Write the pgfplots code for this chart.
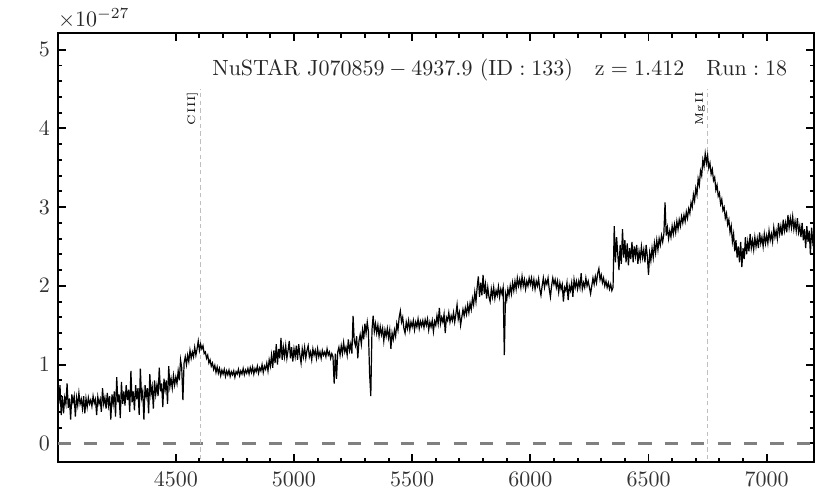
\documentclass[border=0pt]{standalone}
\usepackage{pgfplots}
\pgfplotsset{compat=1.18}

\begin{document}
\begin{tikzpicture}
\begin{axis}[
    name=ax,
    width=343.8pt, height=195pt,
    scale only axis,
    xmin=4000, xmax=7200,
    ymin=-0.24, ymax=5.21,
    xtick={4500,5000,...,7000},
    ytick={0,1,...,5},
    minor x tick num=4,
    minor y tick num=4,
    tick align=inside,
    xtick pos=both, ytick pos=both,
    major tick length=3.6pt,
    minor tick length=2pt,
    every tick/.style={black, line width=0.9pt},
    axis line style={black, line width=1pt},
    tick label style={font=\normalsize, color=black!80},
    xticklabel style={yshift=-1pt, /pgf/number format/set thousands separator={}},
    scaled ticks=false,
    clip=true,
]
% zero level
\addplot[gray, line width=1.1pt, dash pattern=on 6pt off 6pt]
    coordinates {(4000,0) (7200,0)};
% emission line markers
\addplot[black!25, line width=0.5pt, dash pattern=on 2pt off 1.5pt]
    coordinates {(4604.5,-0.3) (4604.5,4.5)};
\addplot[black!25, line width=0.5pt, dash pattern=on 2pt off 1.5pt]
    coordinates {(6751,-0.3) (6751,4.5)};

% spectrum
\addplot[black, line width=0.55pt] coordinates {
(4000,.62) (4005,.50) (4010,.74) (4015,.36) (4020,.60) (4025,.38) (4030,.58) (4035,.50) (4040,.76) (4045,.45) (4050,.57) (4055,.30) (4060,.62) (4065,.52) (4070,.60) (4075,.34) (4080,.58) (4085,.48) (4090,.64) (4095,.50)
(4100,.56) (4105,.44) (4110,.60) (4115,.38) (4120,.57) (4125,.46) (4130,.58) (4135,.50) (4140,.55) (4145,.47) (4150,.60) (4155,.51) (4160,.56) (4165,.36) (4170,.59) (4175,.50) (4180,.56) (4185,.40) (4190,.70) (4195,.50)
(4200,.58) (4205,.44) (4210,.64) (4215,.48) (4220,.60) (4225,.30) (4230,.62) (4235,.50) (4240,.66) (4245,.34) (4250,.84) (4255,.52) (4260,.62) (4265,.32) (4270,.78) (4275,.50) (4280,.66) (4285,.48) (4290,.74) (4295,.55)
(4300,.68) (4305,.40) (4310,.92) (4315,.52) (4320,.66) (4325,.42) (4330,.74) (4335,.56) (4340,.70) (4345,.36) (4350,.95) (4355,.58) (4360,.66) (4365,.30) (4370,.74) (4375,.60) (4380,.70) (4385,.38) (4390,.88) (4395,.62)
(4400,.72) (4405,.44) (4410,.80) (4415,.62) (4420,.74) (4425,.60) (4430,.96) (4435,.66) (4440,.76) (4445,.46) (4450,.82) (4455,.68) (4460,.80) (4465,.50) (4470,.98) (4475,.72) (4480,.82) (4485,.70) (4490,.86) (4495,.74)
(4500,.84) (4505,.76) (4510,.92) (4515,.80) (4520,1.06) (4525,.96) (4530,.55) (4535,1.02) (4540,1.10) (4545,1.00) (4550,1.12) (4555,1.04) (4560,1.18) (4565,1.08) (4570,1.16) (4575,1.10) (4580,1.22) (4585,1.12) (4590,1.20) (4595,1.30)
(4600,1.18) (4605,1.26) (4610,1.20) (4615,1.24) (4620,1.14) (4625,1.16) (4630,1.08) (4635,1.12) (4640,1.02) (4645,1.06) (4650,.98) (4655,1.02) (4660,.94) (4665,.99) (4670,.90) (4675,.97) (4680,.89) (4685,.95) (4690,.86) (4695,.93)
(4700,.88) (4705,.94) (4710,.85) (4715,.92) (4720,.87) (4725,.93) (4730,.85) (4735,.91) (4740,.87) (4745,.92) (4750,.84) (4755,.91) (4760,.88) (4765,.94) (4770,.86) (4775,.92) (4780,.88) (4785,.95) (4790,.87) (4795,.93)
(4800,.89) (4805,.95) (4810,.88) (4815,.96) (4820,.90) (4825,.97) (4830,.88) (4835,.95) (4840,.91) (4845,.98) (4850,.89) (4855,.96) (4860,.92) (4865,1.00) (4870,.90) (4875,.98) (4880,.94) (4885,1.02) (4890,.92) (4895,1.06)
(4900,.98) (4905,1.12) (4910,.96) (4915,1.18) (4920,1.02) (4925,1.26) (4930,1.00) (4935,1.20) (4940,1.08) (4945,1.34) (4950,1.06) (4955,1.22) (4960,1.10) (4965,1.24) (4970,1.08) (4975,1.18) (4980,1.30) (4985,1.08) (4990,1.22) (4995,1.04)
(5000,1.20) (5005,1.10) (5010,1.24) (5015,1.06) (5020,1.26) (5025,1.12) (5030,1.02) (5035,1.20) (5040,1.10) (5045,1.22) (5050,1.08) (5055,1.18) (5060,1.24) (5065,1.10) (5070,1.16) (5075,1.06) (5080,1.20) (5085,1.12) (5090,1.18) (5095,1.08)
(5100,1.20) (5105,1.10) (5110,1.16) (5115,1.08) (5120,1.18) (5125,1.12) (5130,1.16) (5135,1.10) (5140,1.20) (5145,1.12) (5150,1.16) (5155,1.08) (5160,1.14) (5165,1.10) (5170,.76) (5175,1.14) (5180,.82) (5185,1.16) (5190,1.22) (5195,1.12)
(5200,1.24) (5205,1.14) (5210,1.28) (5215,1.16) (5220,1.22) (5225,1.12) (5230,1.32) (5235,1.18) (5240,1.26) (5245,1.14) (5250,1.62) (5255,1.30) (5260,1.24) (5265,1.36) (5270,1.08) (5275,1.30) (5280,1.38) (5285,1.26) (5290,1.44) (5295,1.32)
(5300,1.52) (5305,1.40) (5310,1.54) (5315,1.42) (5320,.88) (5325,.60) (5330,1.44) (5335,1.62) (5340,1.42) (5345,1.52) (5350,1.40) (5355,1.50) (5360,1.36) (5365,1.48) (5370,1.38) (5375,1.46) (5380,1.30) (5385,1.44) (5390,1.36) (5395,1.46)
(5400,1.34) (5405,1.44) (5410,1.20) (5415,1.40) (5420,1.32) (5425,1.44) (5430,1.36) (5435,1.52) (5440,1.44) (5445,1.60) (5450,1.68) (5455,1.54) (5460,1.60) (5465,1.46) (5470,1.40) (5475,1.54) (5480,1.46) (5485,1.56) (5490,1.44) (5495,1.54)
(5500,1.48) (5505,1.56) (5510,1.44) (5515,1.54) (5520,1.48) (5525,1.58) (5530,1.46) (5535,1.55) (5540,1.49) (5545,1.56) (5550,1.47) (5555,1.57) (5560,1.50) (5565,1.58) (5570,1.44) (5575,1.54) (5580,1.48) (5585,1.56) (5590,1.42) (5595,1.55)
(5600,1.50) (5605,1.62) (5610,1.52) (5615,1.72) (5620,1.52) (5625,1.60) (5630,1.54) (5635,1.64) (5640,1.40) (5645,1.60) (5650,1.56) (5655,1.66) (5660,1.54) (5665,1.62) (5670,1.56) (5675,1.66) (5680,1.54) (5685,1.64) (5690,1.76) (5695,1.58)
(5700,1.66) (5705,1.50) (5710,1.60) (5715,1.70) (5720,1.62) (5725,1.72) (5730,1.64) (5735,1.76) (5740,1.66) (5745,1.78) (5750,1.70) (5755,1.84) (5760,1.76) (5765,1.92) (5770,1.80) (5775,1.98) (5780,2.12) (5785,1.86) (5790,2.04) (5795,1.88)
(5800,2.14) (5805,1.90) (5810,2.02) (5815,1.84) (5820,1.98) (5825,1.86) (5830,1.80) (5835,1.96) (5840,1.86) (5845,1.98) (5850,1.84) (5855,1.94) (5860,1.88) (5865,1.99) (5870,1.86) (5875,1.96) (5880,1.90) (5885,1.98) (5890,1.12) (5895,1.90)
(5900,1.82) (5905,1.96) (5910,1.88) (5915,2.00) (5920,1.90) (5925,2.04) (5930,1.94) (5935,2.06) (5940,1.96) (5945,2.10) (5950,2.00) (5955,2.08) (5960,1.98) (5965,2.12) (5970,2.00) (5975,2.08) (5980,1.96) (5985,2.06) (5990,2.00) (5995,2.10)
(6000,2.02) (6005,2.10) (6010,1.98) (6015,2.08) (6020,1.96) (6025,2.06) (6030,2.00) (6035,2.09) (6040,1.96) (6045,1.88) (6050,2.00) (6055,2.10) (6060,1.98) (6065,2.07) (6070,2.02) (6075,2.10) (6080,1.96) (6085,1.86) (6090,2.00) (6095,2.10)
(6100,2.02) (6105,2.08) (6110,1.98) (6115,2.06) (6120,1.92) (6125,2.04) (6130,1.96) (6135,2.02) (6140,1.80) (6145,1.98) (6150,1.94) (6155,2.04) (6160,1.82) (6165,2.00) (6170,1.94) (6175,2.04) (6180,1.86) (6185,2.08) (6190,1.98) (6195,2.06)
(6200,1.96) (6205,2.06) (6210,1.98) (6215,2.16) (6220,1.96) (6225,2.04) (6230,1.98) (6235,2.10) (6240,2.00) (6245,2.06) (6250,1.98) (6255,1.90) (6260,2.00) (6265,2.10) (6270,2.02) (6275,2.12) (6280,2.04) (6285,2.16) (6290,2.22) (6295,2.08)
(6300,2.14) (6305,2.04) (6310,2.10) (6315,2.00) (6320,2.06) (6325,1.98) (6330,2.04) (6335,1.96) (6340,2.02) (6345,1.94) (6350,1.98) (6355,2.76) (6360,2.30) (6365,2.62) (6370,2.40) (6375,2.20) (6380,2.52) (6385,2.28) (6390,2.72) (6395,2.36)
(6400,2.58) (6405,2.30) (6410,2.54) (6415,2.26) (6420,2.48) (6425,2.34) (6430,2.56) (6435,2.30) (6440,2.50) (6445,2.38) (6450,2.52) (6455,2.28) (6460,2.44) (6465,2.34) (6470,2.50) (6475,2.36) (6480,2.46) (6485,2.30) (6490,2.52) (6495,2.38)
(6500,2.14) (6505,2.42) (6510,2.32) (6515,2.48) (6520,2.36) (6525,2.54) (6530,2.42) (6535,2.58) (6540,2.46) (6545,2.60) (6550,2.52) (6555,2.64) (6560,2.56) (6565,2.66) (6570,3.06) (6575,2.64) (6580,2.74) (6585,2.60) (6590,2.70) (6595,2.62)
(6600,2.76) (6605,2.66) (6610,2.78) (6615,2.68) (6620,2.82) (6625,2.72) (6630,2.84) (6635,2.76) (6640,2.88) (6645,2.80) (6650,2.90) (6655,2.82) (6660,2.94) (6665,2.86) (6670,2.98) (6675,2.92) (6680,3.06) (6685,3.00) (6690,3.16) (6695,3.08)
(6700,3.24) (6705,3.16) (6710,3.36) (6715,3.28) (6720,3.46) (6725,3.40) (6730,3.60) (6735,3.52) (6740,3.68) (6745,3.56) (6750,3.66) (6755,3.50) (6760,3.56) (6765,3.42) (6770,3.48) (6775,3.34) (6780,3.38) (6785,3.22) (6790,3.28) (6795,3.14)
(6800,3.18) (6805,3.04) (6810,3.10) (6815,2.96) (6820,3.00) (6825,2.86) (6830,2.92) (6835,2.78) (6840,2.84) (6845,2.68) (6850,2.76) (6855,2.56) (6860,2.66) (6865,2.44) (6870,2.58) (6875,2.36) (6880,2.50) (6885,2.30) (6890,2.56) (6895,2.24)
(6900,2.48) (6905,2.34) (6910,2.62) (6915,2.40) (6920,2.56) (6925,2.44) (6930,2.66) (6935,2.48) (6940,2.58) (6945,2.46) (6950,2.62) (6955,2.50) (6960,2.60) (6965,2.48) (6970,2.68) (6975,2.54) (6980,2.62) (6985,2.50) (6990,2.66) (6995,2.54)
(7000,2.64) (7005,2.54) (7010,2.70) (7015,2.58) (7020,2.66) (7025,2.56) (7030,2.74) (7035,2.62) (7040,2.70) (7045,2.60) (7050,2.80) (7055,2.66) (7060,2.76) (7065,2.64) (7070,2.84) (7075,2.70) (7080,2.80) (7085,2.68) (7090,2.90) (7095,2.74)
(7100,2.86) (7105,2.74) (7110,2.88) (7115,2.72) (7120,2.82) (7125,2.70) (7130,2.86) (7135,2.68) (7140,2.76) (7145,2.62) (7150,2.80) (7155,2.58) (7160,2.72) (7165,2.48) (7170,2.76) (7175,2.56) (7180,2.70) (7185,2.40) (7190,2.74) (7195,2.56)
(7200,2.66)
};

\node[font=\tiny, rotate=90, anchor=south east, inner sep=1pt] at (axis cs:4604.5,4.5) {C\,III]};
\node[font=\tiny, rotate=90, anchor=south east, inner sep=1pt] at (axis cs:6751,4.5) {Mg\,II};
\node[anchor=east, color=black!85] at (rel axis cs:0.975,0.914)
    {$\mathrm{NuSTAR\ J070859-4937.9\ (ID:133)\quad z=1.412\quad Run:18}$};
\end{axis}
\node[anchor=south west, inner sep=0pt, color=black!85] at ([yshift=2pt]ax.north west) {$\times10^{-27}$};
\path ([xshift=-26.2pt,yshift=-16.2pt]ax.south west) ([xshift=7.3pt,yshift=15.1pt]ax.north east);
\end{tikzpicture}
\end{document}
